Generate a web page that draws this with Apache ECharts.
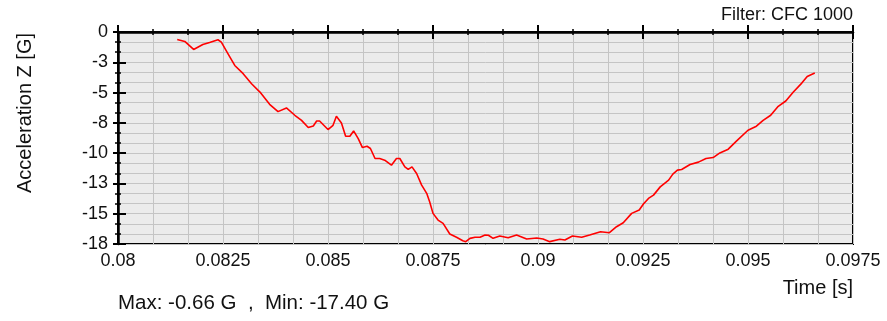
<!DOCTYPE html>
<html>
<head>
<meta charset="utf-8">
<script src="https://cdn.jsdelivr.net/npm/echarts@6/dist/echarts.min.js"></script>
<style>
html,body{margin:0;padding:0;background:#fff;}
#c{width:887px;height:321px;}
</style>
</head>
<body>
<div id="c"></div>
<script>
const timeS = [0.08141,0.08159,0.08180,0.08202,0.08218,0.08238,0.08246,0.08262,0.08278,0.08298,0.08318,0.08338,0.08361,0.08381,0.08401,0.08421,0.08437,0.08453,0.08465,0.08473,0.08480,0.08500,0.08512,0.08520,0.08532,0.08542,0.08552,0.08561,0.08572,0.08582,0.08593,0.08601,0.08612,0.08623,0.08635,0.08651,0.08663,0.08671,0.08683,0.08691,0.08700,0.08711,0.08723,0.08735,0.08742,0.08750,0.08762,0.08774,0.08790,0.08806,0.08821,0.08828,0.08838,0.08850,0.08862,0.08874,0.08882,0.08893,0.08909,0.08929,0.08949,0.08973,0.08997,0.09012,0.09028,0.09052,0.09064,0.09082,0.09104,0.09123,0.09149,0.09170,0.09187,0.09203,0.09223,0.09241,0.09251,0.09263,0.09275,0.09291,0.09311,0.09321,0.09332,0.09342,0.09362,0.09382,0.09400,0.09417,0.09433,0.09453,0.09473,0.09500,0.09520,0.09536,0.09554,0.09572,0.09590,0.09608,0.09628,0.09641,0.09659];
const accelZ = [-0.64,-0.80,-1.48,-1.06,-0.89,-0.66,-0.86,-1.85,-2.84,-3.54,-4.39,-5.10,-6.14,-6.76,-6.45,-7.07,-7.50,-8.11,-7.98,-7.56,-7.56,-8.28,-7.92,-7.16,-7.72,-8.85,-8.85,-8.40,-9.05,-9.81,-9.70,-9.89,-10.74,-10.74,-10.88,-11.31,-10.74,-10.74,-11.45,-11.67,-11.45,-12.01,-13.00,-13.70,-14.42,-15.40,-15.97,-16.25,-17.15,-17.43,-17.72,-17.80,-17.52,-17.43,-17.43,-17.24,-17.26,-17.52,-17.32,-17.47,-17.24,-17.58,-17.49,-17.58,-17.80,-17.60,-17.66,-17.32,-17.43,-17.24,-16.96,-17.04,-16.53,-16.20,-15.40,-15.12,-14.61,-14.13,-13.85,-13.15,-12.58,-12.07,-11.73,-11.67,-11.25,-11.05,-10.74,-10.66,-10.27,-9.95,-9.25,-8.34,-8.00,-7.50,-7.07,-6.31,-5.86,-5.10,-4.34,-3.77,-3.49];
const xTickRange = [0.08, 0.0975, 0.0025];
const yTickRange = [-18, 0, 18/7];
const yTitle = 'Acceleration Z [G]';
const xTitle = 'Time [s]';
const filterText = 'Filter: CFC 1000';
const statsText = 'Max: -0.66 G  ,  Min: -17.40 G';

const FONT = '"Liberation Sans", Arial, sans-serif';
const chart = echarts.init(document.getElementById('c'), null, {renderer: 'canvas'});
const seriesData = timeS.map((t, i) => [t, accelZ[i]]);

const baseX = {
  type: 'value', min: xTickRange[0], max: xTickRange[1], interval: xTickRange[2],
  position: 'bottom'
};
const baseY = {
  type: 'value', min: yTickRange[0], max: yTickRange[1], interval: yTickRange[2],
  position: 'left'
};

chart.setOption({
  animation: false,
  grid: {
    left: 118, right: 34, top: 32, bottom: 77,
    show: true, backgroundColor: '#ebebeb', borderColor: '#000', borderWidth: 2
  },
  xAxis: [
    Object.assign({}, baseX, {
      axisLine: {show: true, lineStyle: {color: '#000', width: 2.5}},
      axisTick: {show: true, inside: false, length: 7, lineStyle: {color: '#000', width: 2}},
      minorTick: {show: true, splitNumber: 3, length: 3, lineStyle: {color: '#000', width: 1.5}},
      splitLine: {show: true, lineStyle: {color: '#c4c4c4', width: 1}},
      minorSplitLine: {show: true, lineStyle: {color: '#c4c4c4', width: 1}},
      axisLabel: {
        show: true, margin: 8, color: '#111', fontFamily: FONT, fontSize: 18,
        formatter: v => String(+v.toFixed(5))
      }
    }),
    Object.assign({}, baseX, {
      axisLine: {show: false},
      axisTick: {show: true, inside: true, length: 7, lineStyle: {color: '#000', width: 2}},
      minorTick: {show: true, splitNumber: 3, length: 3, lineStyle: {color: '#000', width: 1.5}},
      splitLine: {show: false},
      minorSplitLine: {show: false},
      axisLabel: {show: false}
    })
  ],
  yAxis: [
    Object.assign({}, baseY, {
      axisLine: {show: true, lineStyle: {color: '#000', width: 2.5}},
      axisTick: {show: true, inside: false, length: 5, lineStyle: {color: '#000', width: 2}},
      minorTick: {show: true, splitNumber: 3, length: 3, lineStyle: {color: '#000', width: 1.5}},
      splitLine: {show: true, lineStyle: {color: '#c4c4c4', width: 1}},
      minorSplitLine: {show: true, lineStyle: {color: '#c4c4c4', width: 1}},
      axisLabel: {
        show: true, margin: 10, color: '#111', fontFamily: FONT, fontSize: 18,
        formatter: v => { const r = Math.round(v); return r === 0 ? '0' : String(r); }
      }
    }),
    Object.assign({}, baseY, {
      axisLine: {show: false},
      axisTick: {show: true, inside: true, length: 8, lineStyle: {color: '#000', width: 2}},
      minorTick: {show: true, splitNumber: 3, length: 3, lineStyle: {color: '#000', width: 1.5}},
      splitLine: {show: false},
      minorSplitLine: {show: false},
      axisLabel: {show: false}
    })
  ],
  series: [{
    type: 'line', xAxisIndex: 0, yAxisIndex: 0, data: seriesData,
    showSymbol: false, symbol: 'none', smooth: false,
    lineStyle: {color: '#ff0000', width: 1.6}, z: 5
  }],
  graphic: [
    {type: 'text', x: 25, y: 113, rotation: Math.PI / 2,
      style: {text: yTitle, font: '20px ' + FONT, fill: '#111', align: 'center', verticalAlign: 'middle'}},
    {type: 'text', x: 853, y: 288,
      style: {text: xTitle, font: '20px ' + FONT, fill: '#111', align: 'right', verticalAlign: 'middle'}},
    {type: 'text', x: 853, y: 15,
      style: {text: filterText, font: '18px ' + FONT, fill: '#111', align: 'right', verticalAlign: 'middle'}},
    {type: 'text', x: 118, y: 303,
      style: {text: statsText, font: '20.5px ' + FONT, fill: '#111', align: 'left', verticalAlign: 'middle'}}
  ]
});
</script>
</body>
</html>
